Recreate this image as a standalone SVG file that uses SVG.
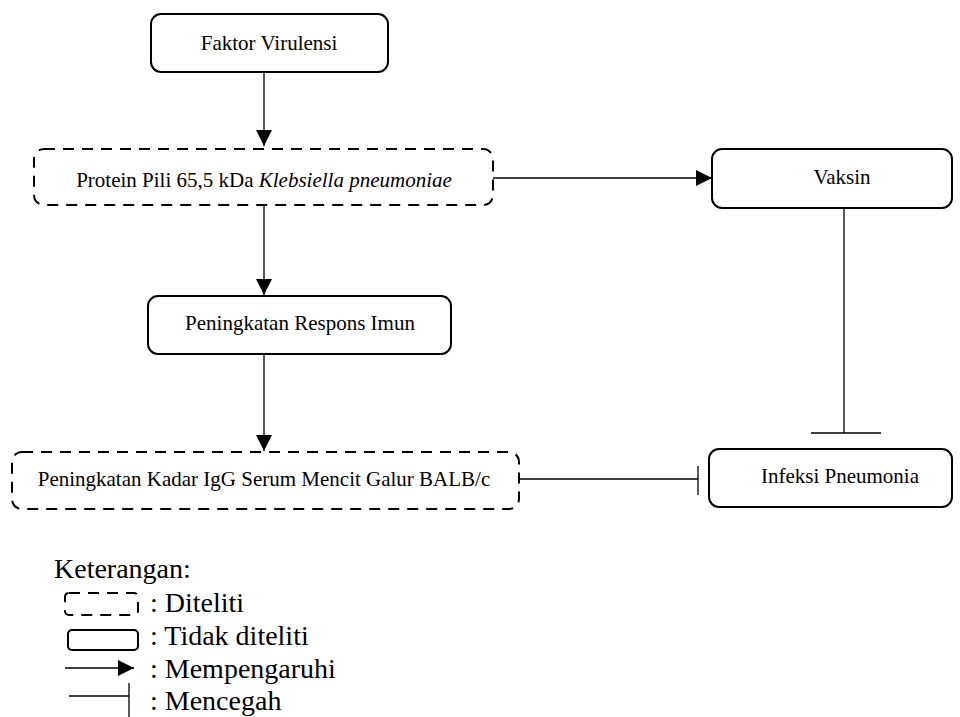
<svg xmlns="http://www.w3.org/2000/svg" width="960" height="717" viewBox="0 0 960 717">
<style>
.box{fill:#fff;stroke:#000;stroke-width:2}
.dash{fill:#fff;stroke:#000;stroke-width:2;stroke-dasharray:11 8}
.lbl{font-family:"Liberation Serif","Times New Roman",serif;font-size:21px;fill:#000;text-anchor:middle}
.leg{font-family:"Liberation Serif","Times New Roman",serif;font-size:28px;fill:#000}
.ln{fill:none;stroke:#000;stroke-width:1.3}
</style>
<defs>
<marker id="arr" markerUnits="userSpaceOnUse" markerWidth="16" markerHeight="16" viewBox="0 0 14 14" refX="14" refY="7" orient="auto">
<path d="M0,0 L14,7 L0,14 Z" fill="#000"/>
</marker>
</defs>
<rect width="960" height="717" fill="#fff"/>
<g id="connectors">
<path class="ln" d="M264,72 V146" marker-end="url(#arr)"/>
<path class="ln" d="M264,205 V295" marker-end="url(#arr)"/>
<path class="ln" d="M264,354 V451" marker-end="url(#arr)"/>
<path class="ln" d="M493,178 H712" marker-end="url(#arr)"/>
<path class="ln" d="M844,208 V433 M811,433 H881"/>
<path class="ln" d="M519,479 H698 M698,466 V495"/>
</g>
<g id="faktor">
<rect class="box" x="151" y="14" width="237" height="58" rx="10"/>
<text class="lbl" x="269" y="50">Faktor Virulensi</text>
</g>
<g id="protein">
<rect class="dash" x="34" y="149" width="459" height="56" rx="10"/>
<text class="lbl" x="264" y="187">Protein Pili 65,5 kDa <tspan font-style="italic">Klebsiella pneumoniae</tspan></text>
</g>
<g id="vaksin">
<rect class="box" x="712" y="149" width="240" height="59" rx="10"/>
<text class="lbl" x="842" y="184">Vaksin</text>
</g>
<g id="respons">
<rect class="box" x="148" y="296" width="303" height="58" rx="10"/>
<text class="lbl" x="300" y="330">Peningkatan Respons Imun</text>
</g>
<g id="igg">
<rect class="dash" x="12" y="452" width="507" height="57" rx="10"/>
<text class="lbl" x="264" y="486">Peningkatan Kadar IgG Serum Mencit Galur BALB/c</text>
</g>
<g id="infeksi">
<rect class="box" x="709" y="449" width="243" height="58" rx="10"/>
<text class="lbl" x="840" y="483">Infeksi Pneumonia</text>
</g>
<g id="legend">
<text class="leg" x="54" y="578">Keterangan:</text>
<rect class="dash" x="65" y="593" width="73" height="22" rx="4"/>
<text class="leg" x="150" y="612">: Diteliti</text>
<rect class="box" x="68" y="630" width="70" height="20" rx="4"/>
<text class="leg" x="150" y="645">: Tidak diteliti</text>
<path class="ln" d="M65,668 H134" marker-end="url(#arr)"/>
<text class="leg" x="150" y="678">: Mempengaruhi</text>
<path class="ln" d="M69,696 H129 M129,683 V717"/>
<text class="leg" x="150" y="710">: Mencegah</text>
</g>
</svg>
